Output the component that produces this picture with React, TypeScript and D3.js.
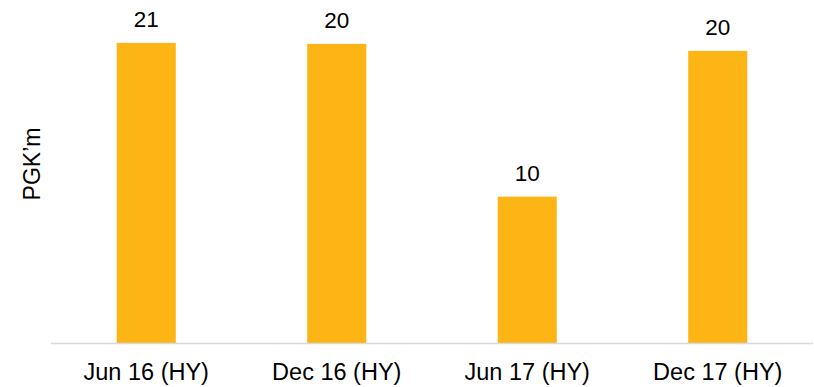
import React from "react";
import * as d3 from "d3";

const categories = ["Jun 16 (HY)", "Dec 16 (HY)", "Jun 17 (HY)", "Dec 17 (HY)"];
const values = [21.0, 20.93, 10.24, 20.44];
const valueLabels = ["21", "20", "10", "20"];
const yTitle = "PGK\u2019m";

const W = 814;
const H = 387;
const FONT = "'Liberation Sans', Arial, sans-serif";

export default function App() {
  const x = d3.scaleBand<string>().domain(categories).range([51, 813]).padding(0);
  const y = d3.scaleLinear().domain([0, 24]).range([343, 0]);
  const barW = x.bandwidth() * 0.31;

  return (
    <svg
      width={W}
      height={H}
      style={{ position: "absolute", left: 0, top: 0, background: "#fff" }}
      fontFamily={FONT}
    >
      {categories.map((c, i) => {
        const cx = (x(c) ?? 0) + x.bandwidth() / 2;
        return (
          <g key={c}>
            <rect x={cx - barW / 2} y={y(values[i])} width={barW} height={y(0) - y(values[i])} fill="#FDB515" />
            <text x={cx} y={y(values[i]) - 16} textAnchor="middle" fontSize={22.5} fill="#000">
              {valueLabels[i]}
            </text>
            <text x={cx} y={y(0) + 37} textAnchor="middle" fontSize={23.5} fill="#000">
              {c}
            </text>
          </g>
        );
      })}
      <line x1={51} x2={813} y1={y(0) + 0.5} y2={y(0) + 0.5} stroke="#d9d9d9" strokeWidth={1.5} />
      <text
        transform={`translate(40, 164) rotate(-90)`}
        textAnchor="middle"
        fontSize={23}
        fill="#000"
      >
        {yTitle}
      </text>
    </svg>
  );
}
